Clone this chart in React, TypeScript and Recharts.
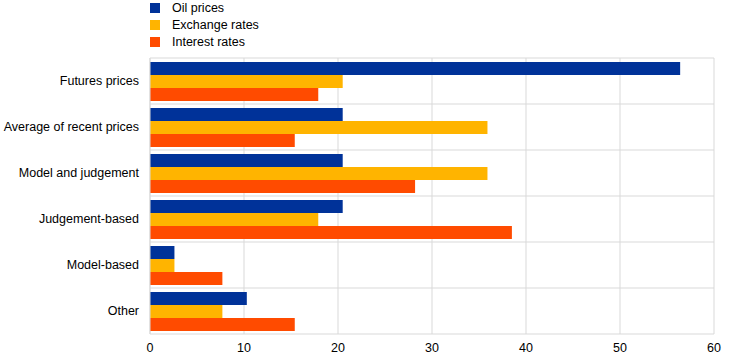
import React from 'react';
import { BarChart, Bar, XAxis, YAxis, CartesianGrid } from 'recharts';

const categories = [
  'Futures prices',
  'Average of recent prices',
  'Model and judgement',
  'Judgement-based',
  'Model-based',
  'Other',
];
const oilPrices = [56.4, 20.5, 20.5, 20.5, 2.6, 10.3];
const exchangeRates = [20.5, 35.9, 35.9, 17.9, 2.6, 7.7];
const interestRates = [17.9, 15.4, 28.2, 38.5, 7.7, 15.4];
const xTicks = [0, 10, 20, 30, 40, 50, 60];
const seriesKeys = ['oil', 'fx', 'ir'];
const seriesNames = ['Oil prices', 'Exchange rates', 'Interest rates'];
const seriesColors = ['#003299', '#FFB400', '#FF4B00'];

const data = categories.map((c, i) => ({
  category: c,
  oil: oilPrices[i],
  fx: exchangeRates[i],
  ir: interestRates[i],
}));

const FONT = "Arial, 'Liberation Sans', sans-serif";
const GRID = '#d9d9d9';

const YTick = (props: any) => {
  const { x, y, payload } = props;
  return (
    <text x={x} y={y} dy="0.355em" textAnchor="end" fill="#000" fontSize={12.5} fontFamily={FONT}>
      {payload.value}
    </text>
  );
};

export default function App() {
  return (
    <div style={{ position: 'absolute', left: 0, top: 0, width: 743, height: 359, background: '#fff' }}>
      <div style={{ position: 'absolute', left: 145, top: 0, fontFamily: FONT, fontSize: 12.5, color: '#000', zIndex: 2 }}>
        {seriesNames.map((n, i) => (
          <div key={n} style={{ position: 'relative', height: 17, lineHeight: '17px', width: 200 }}>
            <span
              style={{ position: 'absolute', left: 5, top: 3, width: 10, height: 10, background: seriesColors[i] }}
            />
            <span style={{ position: 'absolute', left: 27, top: 0, whiteSpace: 'nowrap' }}>{n}</span>
          </div>
        ))}
      </div>
      <BarChart
        width={743}
        height={359}
        data={data}
        layout="vertical"
        margin={{ top: 58, right: 29, bottom: 0, left: 0 }}
        barGap={0}
        barSize={13}
      >
        <CartesianGrid
          stroke={GRID}
          strokeWidth={1}
          horizontalCoordinatesGenerator={(p: any) => {
            const off = p.offset;
            return categories.map((_, i) => off.top + (i * off.height) / categories.length);
          }}
        />
        <XAxis
          type="number"
          domain={[0, 60]}
          ticks={xTicks}
          height={25}
          tickSize={0}
          tickMargin={9}
          axisLine={{ stroke: GRID }}
          tick={{ fill: '#000', fontSize: 12.5, fontFamily: FONT }}
        />
        <YAxis
          type="category"
          dataKey="category"
          width={150}
          tickSize={0}
          tickMargin={11}
          axisLine={{ stroke: GRID }}
          tick={<YTick />}
        />
        {seriesKeys.map((k, i) => (
          <Bar key={k} dataKey={k} name={seriesNames[i]} fill={seriesColors[i]} isAnimationActive={false} />
        ))}
      </BarChart>
    </div>
  );
}
